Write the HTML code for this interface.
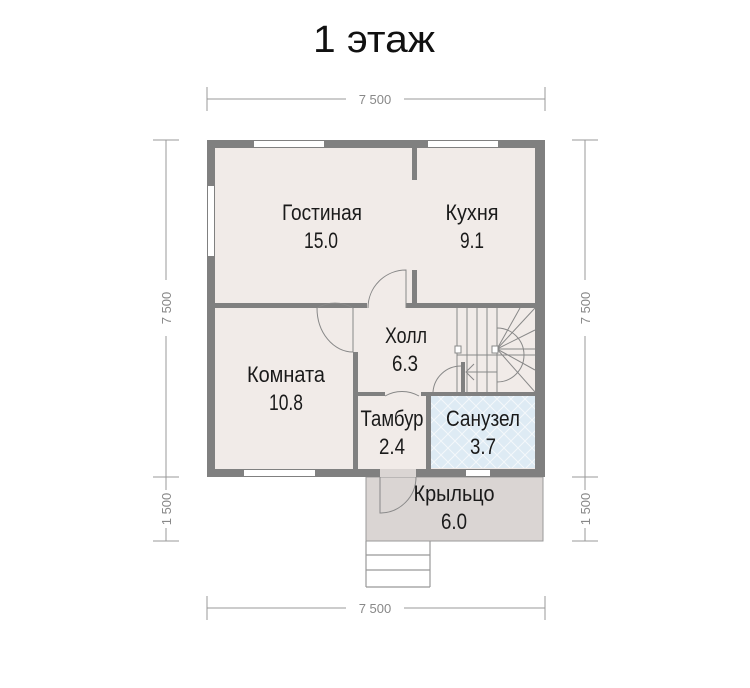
<!DOCTYPE html>
<html><head><meta charset="utf-8"><style>
body{margin:0;background:#fff;width:750px;height:688px;overflow:hidden}
svg{display:block}
.t{font-family:"Liberation Sans",sans-serif;font-size:22px;fill:#1a1a1a;text-anchor:middle}
.d{font-family:"Liberation Sans",sans-serif;font-size:13px;fill:#888;text-anchor:middle}
</style></head><body>
<svg width="750" height="688" viewBox="0 0 750 688" xmlns="http://www.w3.org/2000/svg">
<defs>
<pattern id="tile" width="14" height="14" patternUnits="userSpaceOnUse">
<rect width="14" height="14" fill="#deebf4"/>
<path d="M0 0L14 14M14 0L0 14" stroke="#f4f8fb" stroke-width="1"/>
</pattern>
</defs>
<text x="374" y="52" text-anchor="middle" font-family="Liberation Sans,sans-serif" font-size="38" fill="#111" textLength="122" lengthAdjust="spacingAndGlyphs">1 этаж</text>
<g stroke="#999" stroke-width="1">
<line x1="207" y1="99" x2="346" y2="99"/><line x1="404" y1="99" x2="545" y2="99"/>
<line x1="207" y1="87" x2="207" y2="111"/><line x1="545" y1="87" x2="545" y2="111"/>
<line x1="207" y1="608" x2="346" y2="608"/><line x1="404" y1="608" x2="545" y2="608"/>
<line x1="207" y1="596" x2="207" y2="620"/><line x1="545" y1="596" x2="545" y2="620"/>
<line x1="166" y1="140" x2="166" y2="280"/><line x1="166" y1="336" x2="166" y2="477"/>
<line x1="166" y1="477" x2="166" y2="490"/><line x1="166" y1="528" x2="166" y2="541"/>
<line x1="153" y1="140" x2="179" y2="140"/><line x1="153" y1="477" x2="179" y2="477"/><line x1="153" y1="541" x2="179" y2="541"/>
<line x1="585" y1="140" x2="585" y2="280"/><line x1="585" y1="336" x2="585" y2="477"/>
<line x1="585" y1="477" x2="585" y2="490"/><line x1="585" y1="528" x2="585" y2="541"/>
<line x1="572" y1="140" x2="598" y2="140"/><line x1="572" y1="477" x2="598" y2="477"/><line x1="572" y1="541" x2="598" y2="541"/>
</g>
<text class="d" x="375" y="104">7 500</text>
<text class="d" x="375" y="613">7 500</text>
<text class="d" transform="translate(171,308) rotate(-90)">7 500</text>
<text class="d" transform="translate(171,509) rotate(-90)">1 500</text>
<text class="d" transform="translate(590,308) rotate(-90)">7 500</text>
<text class="d" transform="translate(590,509) rotate(-90)">1 500</text>
<rect x="366" y="477" width="177" height="64" fill="#dad5d3" stroke="#999" stroke-width="1"/>
<g stroke="#999" stroke-width="1.2" fill="none">
<line x1="366" y1="541" x2="366" y2="587"/><line x1="430" y1="541" x2="430" y2="587"/>
<line x1="366" y1="555" x2="430" y2="555"/><line x1="366" y1="570" x2="430" y2="570"/><line x1="366" y1="587" x2="430" y2="587"/>
</g>
<rect x="207" y="140" width="338" height="337" fill="#808080"/>
<rect x="215" y="148" width="320" height="321" fill="#f1ebe8"/>
<rect x="431" y="396" width="104" height="72" fill="url(#tile)"/>
<g fill="#808080">
<rect x="412" y="148" width="5" height="32"/>
<rect x="412" y="270" width="5" height="38"/>
<rect x="215" y="303" width="152" height="5"/>
<rect x="406" y="303" width="129" height="5"/>
<rect x="353" y="352" width="5" height="117"/>
<rect x="358" y="392" width="27" height="4"/>
<rect x="421" y="392" width="114" height="4"/>
<rect x="426" y="392" width="5" height="77"/>
<rect x="461" y="362" width="4" height="32"/>
</g>
<g fill="#fff">
<rect x="254" y="141" width="70" height="6"/>
<rect x="428" y="141" width="70" height="6"/>
<rect x="208" y="186" width="6" height="70"/>
<rect x="244" y="470" width="71" height="6"/>
<rect x="466" y="470" width="24" height="6"/>
<rect x="380" y="469" width="36" height="8" fill="#dad5d3"/>
</g>
<g stroke="#888" stroke-width="1" fill="none">
<path d="M406 308 L406 270 A38 38 0 0 0 368 308"/>
<path d="M353 308 A36 36 0 0 0 317 308 M353 308 L353 352"/>
<path d="M317 308 A36 44 0 0 0 353 352"/>
<path d="M380 477 L380 513 A36 36 0 0 0 416 477"/>
<path d="M385 396 A34 34 0 0 1 419 396"/>
<path d="M461 366 A28 28 0 0 0 433 392"/>
</g>
<g stroke="#888" stroke-width="1" fill="none">
<line x1="457" y1="308" x2="457" y2="392"/>
<line x1="467" y1="308" x2="467" y2="392"/><line x1="477" y1="308" x2="477" y2="392"/>
<line x1="487" y1="308" x2="487" y2="392"/><line x1="497" y1="308" x2="497" y2="392"/>
<line x1="457" y1="355" x2="535" y2="355"/>
<path d="M497 328 A27 27 0 0 1 497 382"/>
<line x1="497" y1="349" x2="535" y2="308"/><line x1="497" y1="349" x2="535" y2="330"/>
<line x1="497" y1="349" x2="535" y2="349"/><line x1="497" y1="349" x2="535" y2="370"/>
<line x1="497" y1="349" x2="535" y2="392"/><line x1="497" y1="349" x2="520" y2="308"/>
<line x1="467" y1="372" x2="497" y2="372"/>
<path d="M474 364 L466 372 L474 380"/>
</g>
<rect x="455" y="346" width="6" height="7" fill="#fff" stroke="#888"/>
<rect x="492" y="346" width="6" height="7" fill="#fff" stroke="#888"/>
<text class="t" x="322" y="220" textLength="80" lengthAdjust="spacingAndGlyphs">Гостиная</text>
<text class="t" x="321" y="248" textLength="34" lengthAdjust="spacingAndGlyphs">15.0</text>
<text class="t" x="472" y="220" textLength="53" lengthAdjust="spacingAndGlyphs">Кухня</text>
<text class="t" x="472" y="248" textLength="24" lengthAdjust="spacingAndGlyphs">9.1</text>
<text class="t" x="406" y="343" textLength="42" lengthAdjust="spacingAndGlyphs">Холл</text>
<text class="t" x="405" y="371" textLength="26" lengthAdjust="spacingAndGlyphs">6.3</text>
<text class="t" x="286" y="382" textLength="78" lengthAdjust="spacingAndGlyphs">Комната</text>
<text class="t" x="286" y="410" textLength="34" lengthAdjust="spacingAndGlyphs">10.8</text>
<text class="t" x="392" y="426" textLength="63" lengthAdjust="spacingAndGlyphs">Тамбур</text>
<text class="t" x="392" y="454" textLength="26" lengthAdjust="spacingAndGlyphs">2.4</text>
<text class="t" x="483" y="426" textLength="74" lengthAdjust="spacingAndGlyphs">Санузел</text>
<text class="t" x="483" y="454" textLength="26" lengthAdjust="spacingAndGlyphs">3.7</text>
<text class="t" x="454" y="501" textLength="81" lengthAdjust="spacingAndGlyphs">Крыльцо</text>
<text class="t" x="454" y="529" textLength="26" lengthAdjust="spacingAndGlyphs">6.0</text>
</svg>
</body></html>
